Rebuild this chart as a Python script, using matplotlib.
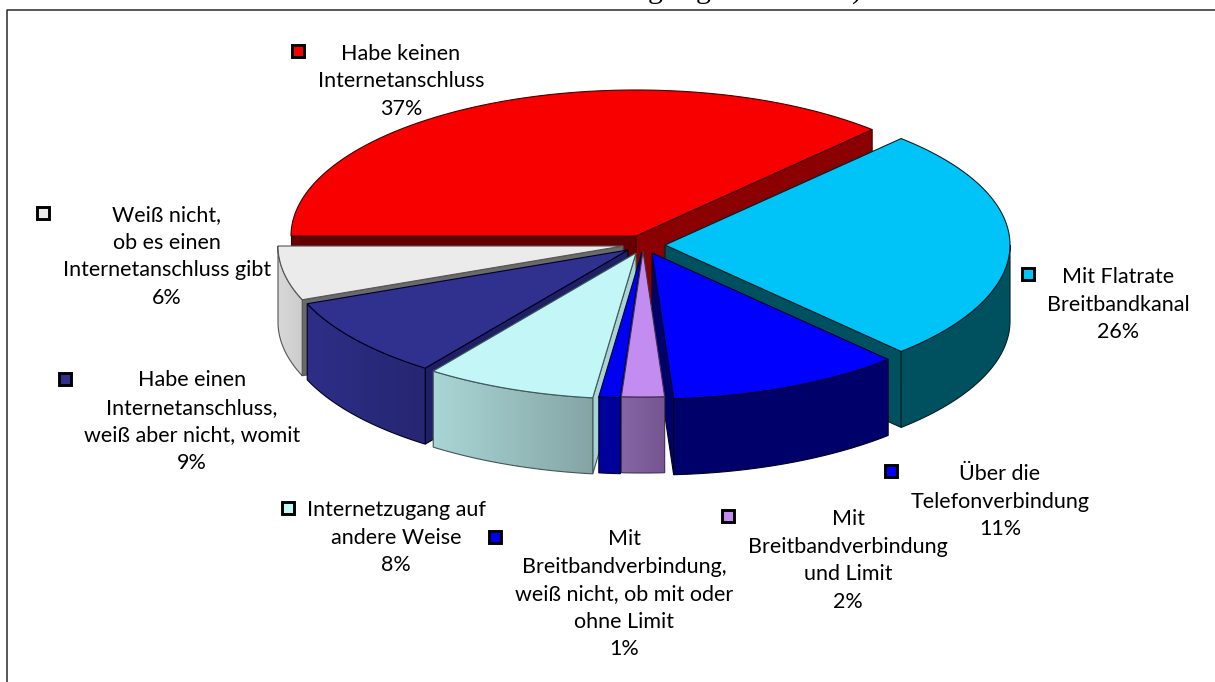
import numpy as np
import matplotlib
matplotlib.use("Agg")
import matplotlib.pyplot as plt
from matplotlib.patches import Polygon
from matplotlib.colors import to_rgb

# ---- data ----
labels = [
    "Habe keinen\nInternetanschluss\n37%",
    "Mit Flatrate\nBreitbandkanal\n26%",
    "Über die\nTelefonverbindung\n11%",
    "Mit\nBreitbandverbindung\nund Limit\n2%",
    "Mit\nBreitbandverbindung,\nweiß nicht, ob mit oder\nohne Limit\n1%",
    "Internetzugang auf\nandere Weise\n8%",
    "Habe einen\nInternetanschluss,\nweiß aber nicht, womit\n9%",
    "Weiß nicht,\nob es einen\nInternetanschluss gibt\n6%",
]
values = [37, 26, 11, 2, 1, 8, 9, 6]
title_fragments = ["g", "g", ")"]

# ---- styles / layout (pixels) ----
title_x = [655, 703, 857]
top_cols = ["#F90000", "#00C4F8", "#0000FF", "#C38CF0", "#0000F0", "#C3F6F6", "#30308F", "#EBEBEB"]
wall_a = ["#8B0000", "#00515F", "#00006B", "#8565A5", "#00009A", "#AAD6D6", "#2E2E88", "#D8D8D8"]
wall_b = ["#8B0000", "#00515F", "#00006B", "#765590", "#00009A", "#85A5A5", "#262672", "#CCCCCC"]
start_face = ["#660000", "#00515F", "#00006B", "#8565A5", "#00009A", "#A9D3D3", "#1F1F66", "#6A6A6A"]
end_face = ["#8B0000", "#00515F", "#00006B", "#8565A5", "#00009A", "#A9D3D3", "#1F1F66", "#6A6A6A"]
edge_cols = ["#400000", "#002028", "#000020", "#403050", "#000030", "#405858", "#000020", "#555555"]
marker_cols = ["#F90000", "#00C4F8", "#0000FF", "#C38CF0", "#0000F0", "#C3F6F6", "#30308F", "#EBEBEB"]
apex = [(636, 236), (665, 245), (652, 253), (643, 251), (642, 252), (636, 253), (628, 250), (623, 246)]
draw_order = [0, 1, 7, 6, 5, 2, 4, 3]
label_xy = [(401, 43.5), (1118, 267), (1000, 464), (848, 509), (624, 529), (396, 500), (192, 370.5), (167, 205)]
marker_xy = [(298, 51), (1028, 274), (891, 471), (728, 516), (495, 537), (288, 508), (65, 379), (43, 213)]
RX, RY, DEPTH, START = 345.0, 146.0, 76.0, 270.0
FONT = ["Lato", "DejaVu Sans"]

fig = plt.figure(figsize=(12.15, 6.82), dpi=100, facecolor="white")
ax = fig.add_axes([0, 0, 1, 1])
ax.axis("off")

ax.plot([7, 7, 1215], [682, 9.5, 9.5], color="#2A2A2A", lw=1.1, zorder=1)
for ch, x in zip(title_fragments, title_x):
    ax.text(x, -2.5, ch, family="Liberation Serif", fontsize=21.5, ha="center", va="baseline",
            color="black", clip_on=True)


def pt(a, c):
    r = np.radians(a)
    return np.array([c[0] + RX * np.sin(r), c[1] - RY * np.cos(r)])


z = 2
edges = np.cumsum([0] + values) / sum(values) * 360.0 + START
for i in draw_order:
    a0, a1 = edges[i], edges[i + 1]
    c = np.array(apex[i], dtype=float)
    down = np.array([0, DEPTH])
    ec = edge_cols[i]
    if np.sin(np.radians(a0)) < 0:
        p = pt(a0, c)
        ax.add_patch(Polygon([c, p, p + down, c + down], fc=start_face[i], ec=ec, lw=0.8, zorder=z))
    if np.sin(np.radians(a1)) > 0:
        p = pt(a1, c)
        ax.add_patch(Polygon([c, p, p + down, c + down], fc=end_face[i], ec=ec, lw=0.8, zorder=z))
    base = 90.0 + 360 * np.floor((a0 + a1) / 2 / 360)
    w0, w1 = max(a0, base), min(a1, base + 180)
    if w1 > w0:
        pts = np.array([pt(t, c) for t in np.linspace(w0, w1, 91)])
        outline = np.vstack([pts, (pts + down)[::-1]])
        wall = Polygon(outline, fc="none", ec=ec, lw=0.8, zorder=z + 0.1)
        ax.add_patch(wall)
        ca, cb = np.array(to_rgb(wall_a[i])), np.array(to_rgb(wall_b[i]))
        grad = np.linspace(ca, cb, 128)[None, :, :]
        im = ax.imshow(grad, extent=(outline[:, 0].min(), outline[:, 0].max(),
                                     outline[:, 1].max(), outline[:, 1].min()),
                       aspect="auto", zorder=z, interpolation="bilinear")
        im.set_clip_path(Polygon(outline, transform=ax.transData))
    arc = np.array([pt(t, c) for t in np.linspace(a0, a1, 121)])
    ax.add_patch(Polygon(np.vstack([c, arc]), fc=top_cols[i], ec=ec, lw=0.8, zorder=z + 0.2))
    z += 1

for lab, (x, y), (mx, my), col in zip(labels, label_xy, marker_xy, marker_cols):
    ax.text(x, y, lab, family=FONT, fontsize=15.5, ha="center", va="top", linespacing=1.47,
            color="black", zorder=50)
    ax.plot([mx], [my], marker="s", ms=8.6, mfc=col, mec="black", mew=2.1, zorder=50, clip_on=False)

ax.set_xlim(0, 1215)
ax.set_ylim(682, 0)
fig.savefig("out.png", dpi=100, facecolor="white")
